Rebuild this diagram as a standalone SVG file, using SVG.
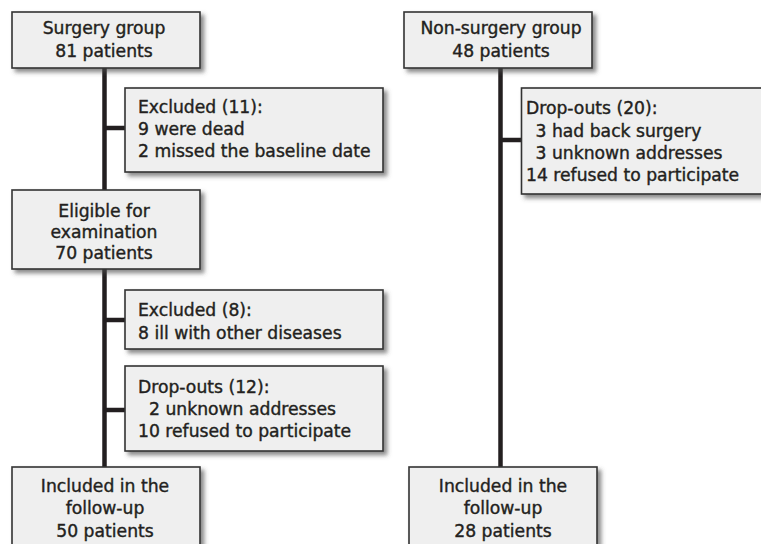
<svg xmlns="http://www.w3.org/2000/svg" width="761" height="544" viewBox="0 0 761 544">
  <defs>
    <filter id="shadow" x="-10%" y="-10%" width="130%" height="140%">
      <feDropShadow dx="3.5" dy="3.5" stdDeviation="2.2" flood-color="#4a4a4a" flood-opacity="0.65"/>
    </filter>
  </defs>
  <style>
    .box { fill: #efefef; stroke: #333333; stroke-width: 1.6; filter: url(#shadow); }
    .conn { stroke: #231f20; stroke-width: 4.5; fill: none; stroke-linecap: butt; }
    text { font-family: "DejaVu Sans", "Liberation Sans", sans-serif; font-size: 17.2px; fill: #231f20; stroke: #231f20; stroke-width: 0.4; }
    .c { text-anchor: middle; }
  </style>
  <rect width="761" height="544" fill="#ffffff"/>

  <g id="connectors">
    <line class="conn" x1="104.5" y1="68" x2="104.5" y2="467"/>
    <line class="conn" x1="104.5" y1="128" x2="126" y2="128"/>
    <line class="conn" x1="104.5" y1="320" x2="126" y2="320"/>
    <line class="conn" x1="104.5" y1="410" x2="126" y2="410"/>
    <line class="conn" x1="500.5" y1="68" x2="500.5" y2="467"/>
    <line class="conn" x1="500.5" y1="140" x2="522" y2="140"/>
  </g>

  <g id="surgery">
    <rect class="box" x="12" y="12" width="188" height="56"/>
    <text class="c" x="104" y="34">Surgery group</text>
    <text class="c" x="104" y="57">81 patients</text>
  </g>

  <g id="excluded11">
    <rect class="box" x="125" y="88" width="258" height="84"/>
    <text x="138" y="113">Excluded (11):</text>
    <text x="138" y="135">9 were dead</text>
    <text x="138" y="157">2 missed the baseline date</text>
  </g>

  <g id="eligible">
    <rect class="box" x="12" y="190" width="188" height="79"/>
    <text class="c" x="104" y="217">Eligible for</text>
    <text class="c" x="104" y="238">examination</text>
    <text class="c" x="104" y="259">70 patients</text>
  </g>

  <g id="excluded8">
    <rect class="box" x="125" y="290" width="258" height="59"/>
    <text x="138" y="316">Excluded (8):</text>
    <text x="138" y="339">8 ill with other diseases</text>
  </g>

  <g id="dropouts12">
    <rect class="box" x="125" y="366" width="258" height="85"/>
    <text x="138" y="393">Drop-outs (12):</text>
    <text x="149" y="415">2 unknown addresses</text>
    <text x="138" y="437">10 refused to participate</text>
  </g>

  <g id="included50">
    <rect class="box" x="12" y="467" width="188" height="90"/>
    <text class="c" x="105" y="492">Included in the</text>
    <text class="c" x="105" y="514">follow-up</text>
    <text class="c" x="105" y="537">50 patients</text>
  </g>

  <g id="nonsurgery">
    <rect class="box" x="404" y="12" width="188" height="56"/>
    <text class="c" x="501" y="34">Non-surgery group</text>
    <text class="c" x="501" y="57">48 patients</text>
  </g>

  <g id="dropouts20">
    <rect class="box" x="521.5" y="88" width="250" height="106"/>
    <text x="526" y="114">Drop-outs (20):</text>
    <text x="535.5" y="136.5">3 had back surgery</text>
    <text x="535.5" y="158.5">3 unknown addresses</text>
    <text x="526" y="180.5">14 refused to participate</text>
  </g>

  <g id="included28">
    <rect class="box" x="409" y="467" width="188" height="90"/>
    <text class="c" x="503" y="492">Included in the</text>
    <text class="c" x="503" y="514">follow-up</text>
    <text class="c" x="503" y="537">28 patients</text>
  </g>
</svg>
